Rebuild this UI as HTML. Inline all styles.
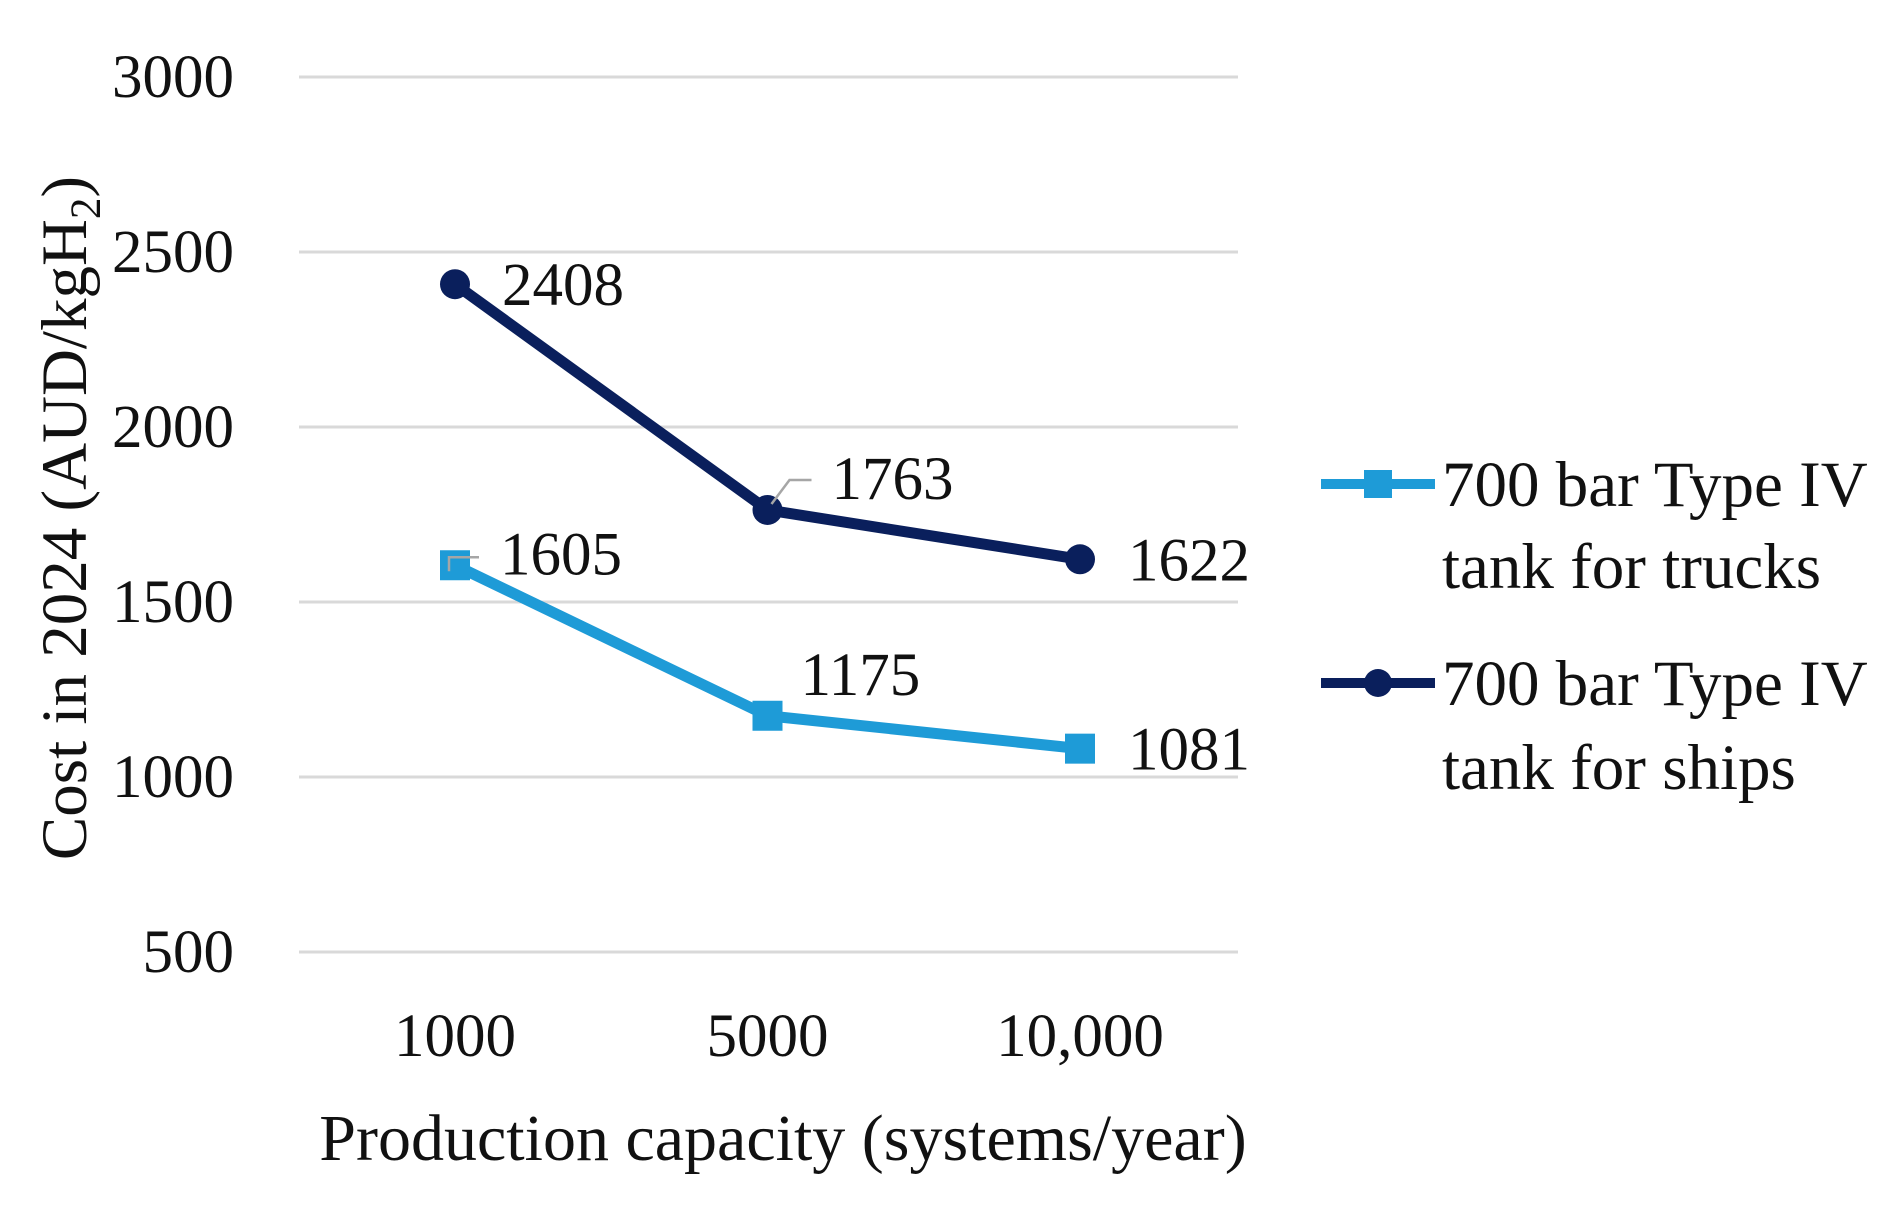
<!DOCTYPE html>
<html><head><meta charset="utf-8"><style>
html,body{margin:0;padding:0;background:#fff;}
svg{display:block;font-family:"Liberation Serif",serif;}
</style></head><body>
<svg id="chart" width="1888" height="1206" viewBox="0 0 1888 1206" xmlns="http://www.w3.org/2000/svg">
<g id="grid"></g>
<g id="yticks"></g>
<g id="xticks"></g>
<g id="series"></g>
<text transform="translate(86,518) rotate(-90)" text-anchor="middle" font-size="65" fill="#111">Cost in 2024 (AUD/kgH<tspan font-size="43" dy="14">2</tspan><tspan dy="-14">)</tspan></text>
<text x="783" y="1160" text-anchor="middle" font-size="66" fill="#111">Production capacity (systems/year)</text>
<g>
 <g>
  <line x1="1321" y1="484" x2="1435" y2="484" stroke="#1e9bd7" stroke-width="10"/>
  <rect x="1364" y="470" width="28" height="28" fill="#1e9bd7"/>
  <text x="1442" y="506" font-size="65" fill="#111">700 bar Type IV</text>
  <text x="1442" y="588" font-size="65" fill="#111">tank for trucks</text>
 </g>
 <g>
  <line x1="1321" y1="683" x2="1435" y2="683" stroke="#0a1f5c" stroke-width="10"/>
  <circle cx="1378" cy="683" r="14" fill="#0a1f5c"/>
  <text x="1442" y="705" font-size="65" fill="#111">700 bar Type IV</text>
  <text x="1442" y="789" font-size="65" fill="#111">tank for ships</text>
 </g>
</g>
</svg>
<script>
const categories = ["1000", "5000", "10,000"];
const trucks = [1605, 1175, 1081];
const ships = [2408, 1763, 1622];
const yTicks = [500, 1000, 1500, 2000, 2500, 3000];

const NS = "http://www.w3.org/2000/svg";
const xPos = i => 455 + i * 312.5;
const yPos = v => 77 + (3000 - v) * (875 / 2500);
function mk(tag, attrs, parent, text){
  const e = document.createElementNS(NS, tag);
  for (const k in attrs) e.setAttribute(k, attrs[k]);
  if (text !== undefined) e.textContent = text;
  parent.appendChild(e); return e;
}
const grid = document.getElementById('grid');
const yt = document.getElementById('yticks');
const xt = document.getElementById('xticks');
const ser = document.getElementById('series');
yTicks.forEach(v => {
  const l = mk('line', {x1:299, x2:1238, y1:yPos(v), y2:yPos(v), stroke:'#d9d9d9', 'stroke-width':3}, grid);
  
  
  const t = mk('text', {x:234, y:yPos(v)+20, 'text-anchor':'end', 'font-size':61, fill:'#111'}, yt, String(v));
  
  
});
categories.forEach((c, i) => {
  const t = mk('text', {x:xPos(i), y:1056, 'text-anchor':'middle', 'font-size':61, fill:'#111'}, xt, c);
  
  
});
function drawSeries(vals, color, shape, labelOffsets, name){
  const pts = vals.map((v, i) => xPos(i) + ',' + yPos(v)).join(' ');
  const pl = mk('polyline', {points:pts, fill:'none', stroke:color, 'stroke-width':11, 'stroke-linejoin':'round'}, ser);
  
  
  vals.forEach((v, i) => {
    const x = xPos(i), y = yPos(v);
    let m;
    if (shape === 'circle') m = mk('circle', {cx:x, cy:y, r:15, fill:color}, ser);
    else m = mk('rect', {x:x-15, y:y-15, width:30, height:30, fill:color}, ser);
    
    
    const o = labelOffsets[i];
    const t = mk('text', {x:x+o[0], y:y+o[1]+21, 'font-size':61, fill:'#111'}, ser, String(v));
    
    
  });
}
drawSeries(trucks, '#1e9bd7', 'square', [[45,-12],[33,-42],[48,0]], 'trucks');
drawSeries(ships, '#0a1f5c', 'circle', [[47,0],[64,-32],[48,0]], 'ships');
const l1 = mk('polyline', {points:(xPos(1)+4)+','+(yPos(ships[1])-6)+' '+(xPos(1)+22)+','+(yPos(ships[1])-30)+' '+(xPos(1)+44)+','+(yPos(ships[1])-30), fill:'none', stroke:'#a6a6a6', 'stroke-width':2.5}, ser);


const l2 = mk('polyline', {points:(xPos(0)-6)+','+(yPos(trucks[0])+6)+' '+(xPos(0)-6)+','+(yPos(trucks[0])-8)+' '+(xPos(0)+24)+','+(yPos(trucks[0])-8), fill:'none', stroke:'#a6a6a6', 'stroke-width':2.5}, ser);


</script>
</body></html>
